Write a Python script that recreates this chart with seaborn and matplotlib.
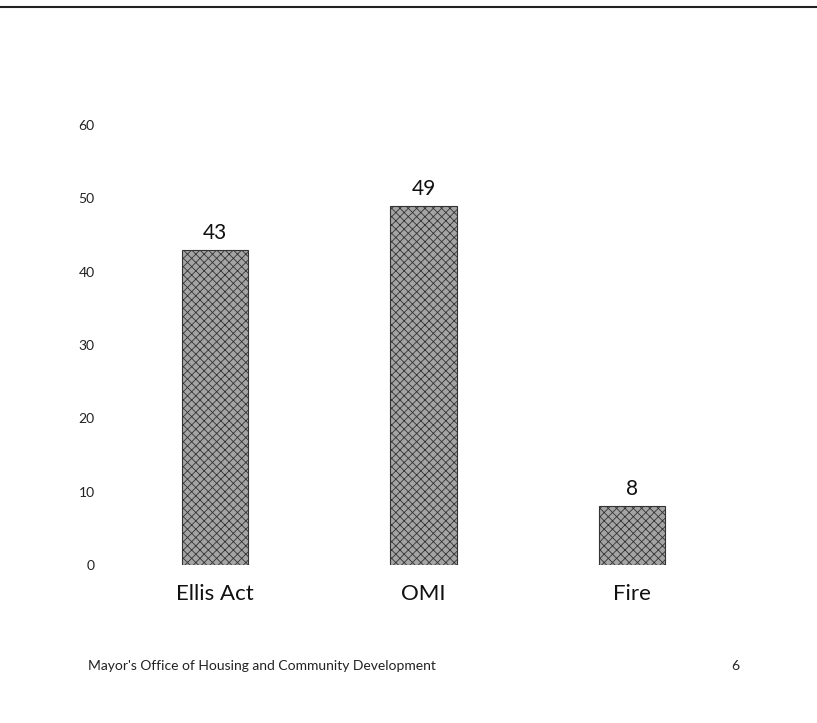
import matplotlib
matplotlib.use("Agg")
import matplotlib.pyplot as plt
import seaborn as sns
import pandas as pd
from matplotlib.lines import Line2D

categories = ["Ellis Act", "OMI", "Fire"]
values = [43, 49, 8]
yticks = [0, 10, 20, 30, 40, 50, 60]
footer_text = "Mayor's Office of Housing and Community Development"
page_number = "6"

sns.set_theme(style="white")
plt.rcParams['font.family'] = ['Lato', 'DejaVu Sans']
plt.rcParams['hatch.linewidth'] = 0.6
plt.rcParams['hatch.color'] = '#3a3a3a'

df = pd.DataFrame({"category": categories, "value": values})

fig = plt.figure(figsize=(8.17, 7.23), dpi=100)
ax = fig.add_axes([100.3 / 817, 158 / 723, 656.8 / 817, 476.7 / 723])

sns.barplot(data=df, x="category", y="value", ax=ax, color="#a4a4a4",
            width=0.32, saturation=1, edgecolor="#333333", linewidth=0.8)
for p in ax.patches:
    p.set_hatch("xxxx")

for i, v in enumerate(values):
    ax.annotate(str(v), (i, v), xytext=(0, 5), textcoords="offset points",
                ha="center", va="bottom", fontsize=15, color="#111111")

ax.set_xlim(-0.55, 2.6)
ax.set_ylim(0, 65)
ax.set_yticks(yticks)
ax.set_yticklabels([str(t) for t in yticks], fontsize=10, color="#222222")
ax.tick_params(axis="y", length=0, pad=4)
ax.tick_params(axis="x", length=0, pad=14, labelsize=16, labelcolor="#111111")
ax.set_xlabel("")
ax.set_ylabel("")
for s in ax.spines.values():
    s.set_visible(False)

fig.add_artist(Line2D([0, 1], [1 - 7 / 723, 1 - 7 / 723], color="#222222",
                      linewidth=1.5, transform=fig.transFigure))
fig.text(88 / 817, 1 - 666 / 723, footer_text, fontsize=10, color="#222222",
         ha="left", va="center")
fig.text(735 / 817, 1 - 666 / 723, page_number, fontsize=10, color="#222222",
         ha="center", va="center")

fig.savefig("out.png", dpi=100, facecolor="white")
